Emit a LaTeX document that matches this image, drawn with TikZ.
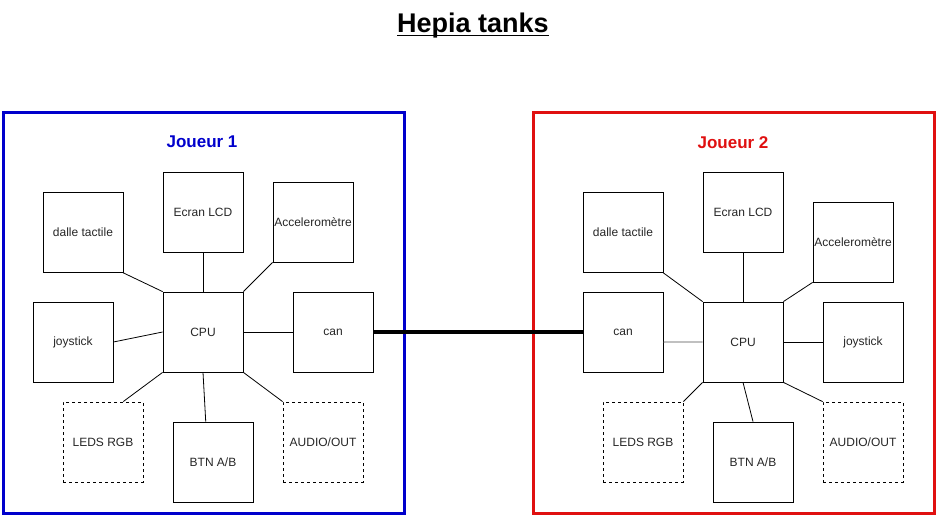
\documentclass[tikz,border=0pt]{standalone}
\usepackage{fontspec}
\setmainfont{Liberation Sans}
\usetikzlibrary{calc}
\definecolor{p1blue}{HTML}{0000CC}
\definecolor{p2red}{HTML}{E01010}
\begin{document}
\begin{tikzpicture}[x=1pt,y=-1pt,
  unit/.style={draw=black,line width=0.8pt,minimum width=80pt,minimum height=80pt,
    inner sep=0pt,font=\fontsize{12}{14}\selectfont,text=black!85},
  optunit/.style={unit,dashed},
  link/.style={draw=black,line width=0.8pt},
  frame/.style={line width=3pt},
  heading/.style={font=\fontsize{17}{20}\selectfont\bfseries}]
\useasboundingbox (0,0) rectangle (937,516);

% title, underlined with a thick rule
\node[inner sep=0pt,font=\fontsize{27}{32}\selectfont\bfseries] (title) at (473,26)
  {\setbox0\hbox{Hepia tanks}\leavevmode\rlap{\copy0}\rlap{\rule[-3.5pt]{\wd0}{1.6pt}}\hphantom{\copy0}};

% ---------- player 1 ----------
\draw[frame,draw=p1blue] (3,113) rectangle (404,513);
\node[heading,text=p1blue] (j1) at (202,142) {Joueur 1};
\node[unit] (dalle1) at (83,232.5) {dalle tactile};
\node[unit] (lcd1) at (203,212) {Ecran LCD};
\node[unit] (acc1) at (313,222) {Acceleromètre};
\node[unit] (joy1) at (73,342) {joystick};
\node[unit] (cpu1) at (203,332) {CPU};
\node[unit] (can1) at (333,332) {can};
\node[optunit] (leds1) at (103,442) {LEDS RGB};
\node[unit] (btn1) at (213,462) {BTN A/B};
\node[optunit] (audio1) at (323,442) {AUDIO/OUT};

\draw[link] (dalle1.south east) -- (cpu1.north west);
\draw[link] (lcd1.south) -- (cpu1.north);
\draw[link] (acc1.south west) -- (cpu1.north east);
\draw[link] (joy1.east) -- (cpu1.west);
\draw[link] (cpu1.east) -- (can1.west);
\draw[link] (cpu1.south west) -- ($(leds1.north west)!0.75!(leds1.north east)$);
\draw[link] (cpu1.south) -- ($(btn1.north west)!0.41!(btn1.north east)$);
\draw[link] (cpu1.south east) -- (audio1.north west);

% ---------- player 2 ----------
\draw[frame,draw=p2red] (533,113) rectangle (934,513);
\node[heading,text=p2red] (j2) at (733,143) {Joueur 2};
\node[unit] (dalle2) at (623,232.5) {dalle tactile};
\node[unit] (lcd2) at (743,212) {Ecran LCD};
\node[unit] (acc2) at (853,242) {Acceleromètre};
\node[unit] (can2) at (623,332) {can};
\node[unit] (cpu2) at (743,342) {CPU};
\node[unit] (joy2) at (863,342) {joystick};
\node[optunit] (leds2) at (643,442) {LEDS RGB};
\node[unit] (btn2) at (753,462) {BTN A/B};
\node[optunit] (audio2) at (863,442) {AUDIO/OUT};

\draw[link] (dalle2.south east) -- (cpu2.north west);
\draw[link] (lcd2.south) -- (cpu2.north);
\draw[link] (acc2.south west) -- (cpu2.north east);
\draw[link,draw=black!70] ($(can2.north east)!0.625!(can2.south east)$) -- (cpu2.west);
\draw[link] (cpu2.east) -- (joy2.west);
\draw[link] (cpu2.south west) -- (leds2.north east);
\draw[link] (cpu2.south) -- (btn2.north);
\draw[link] (cpu2.south east) -- (audio2.north west);

% bus between the two players
\draw[line width=4pt] (can1.east) -- (can2.west);
\end{tikzpicture}
\end{document}
